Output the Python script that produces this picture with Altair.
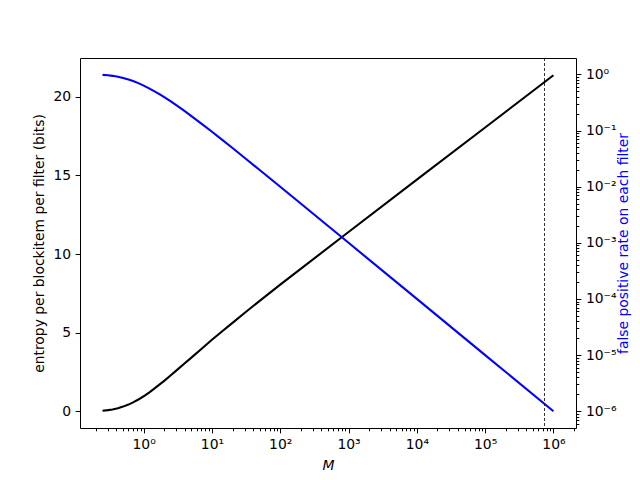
import altair as alt
import pandas as pd

# values
M = [0.25, 0.3, 0.35, 0.42, 0.5, 0.6, 0.7, 0.85, 1, 1.2, 1.4, 1.7, 2, 2.5, 3,
     4, 5, 7, 10, 14, 20, 30, 50, 100, 1e3, 1e4, 1e5, 1e6]
entropy = [0.03, 0.067, 0.11, 0.187, 0.29, 0.42, 0.56, 0.757, 0.95, 1.185,
           1.40, 1.685, 1.93, 2.287, 2.58, 3.05, 3.41, 3.96, 4.54, 5.07, 5.62,
           6.25, 7.02, 8.05, 11.40, 14.73, 18.05, 21.37]
fp = [0.982, 0.964, 0.943, 0.908, 0.865, 0.811, 0.760, 0.692, 0.632, 0.565,
      0.510, 0.445, 0.393, 0.330, 0.283, 0.221, 0.181, 0.133, 0.0952, 0.0689,
      0.0488, 0.0328, 0.0198, 0.00995, 1.0e-3, 1.0e-4, 1.0e-5, 1.0e-6]
marker_M = [7.4e5]

x_major = [1, 10, 100, 1e3, 1e4, 1e5, 1e6]
x_minor = [m * 10 ** k for k in range(-1, 7) for m in range(2, 10)
           if 0.117 <= m * 10 ** k <= 2.14e6]
left_ticks = [0, 5, 10, 15, 20]
right_major = [1e-6, 1e-5, 1e-4, 1e-3, 1e-2, 1e-1, 1]
right_minor = [m * 10.0 ** k for k in range(-7, 1) for m in range(2, 10)
               if 5.02e-7 <= m * 10.0 ** k <= 1.96]

df = pd.DataFrame({"M": M, "entropy": entropy, "fp": fp})
rule_df = pd.DataFrame({"M": marker_M})

SUP = {"0": "⁰", "1": "¹", "2": "²", "3": "³", "4": "⁴", "5": "⁵",
       "6": "⁶", "7": "⁷", "8": "⁸", "9": "⁹", "-": "⁻"}


def pow_label_expr(exps):
    e = "round(log(datum.value)/LN10)"
    s = ""
    for k in exps:
        lab = "10" + "".join(SUP[c] for c in str(k))
        s += f"{e} == {k} ? '{lab}' : "
    return s + "''"


FONT = "DejaVu Sans"
FS = 13.9
MAJ = 4.9
MIN = 2.8

xscale = alt.Scale(type="log", domain=[0.117, 2.14e6], nice=False)
lscale = alt.Scale(domain=[-1.07, 22.47], nice=False, zero=False)
rscale = alt.Scale(type="log", domain=[5.02e-7, 1.96], nice=False)

base = alt.Chart(df)

black = base.mark_line(color="black", strokeWidth=2.1).encode(
    x=alt.X("M:Q", scale=xscale,
            axis=alt.Axis(orient="bottom", values=x_major,
                          labelExpr=pow_label_expr(range(0, 7)),
                          title="M", titleFontStyle="italic", tickSize=MAJ,
                          labelPadding=4.5, titlePadding=7, grid=False,
                          domain=False, labelFlush=False, labelOverlap=False)),
    y=alt.Y("entropy:Q", scale=lscale,
            axis=alt.Axis(orient="left", values=left_ticks,
                          title="entropy per blockitem per filter (bits)",
                          tickSize=MAJ, labelPadding=4.5, titlePadding=6,
                          grid=False, domain=False)),
)

blue = base.mark_line(color="blue", strokeWidth=2.1).encode(
    x=alt.X("M:Q", scale=xscale, axis=None),
    y=alt.Y("fp:Q", scale=rscale,
            axis=alt.Axis(orient="right", values=right_major,
                          labelExpr=pow_label_expr(range(-6, 1)),
                          title="false positive rate on each filter",
                          titleColor="blue", titleAngle=270,
                          titleBaseline="top", titlePadding=1,
                          tickSize=MAJ, labelPadding=4.5, grid=False,
                          domain=False, labelFlush=False, labelOverlap=False)),
)

minor = base.mark_line(opacity=0).encode(
    x=alt.X("M:Q", scale=xscale,
            axis=alt.Axis(orient="bottom", values=x_minor, labels=False,
                          tickSize=MIN, title="", grid=False, domain=False)),
    y=alt.Y("fp:Q", scale=rscale,
            axis=alt.Axis(orient="right", values=right_minor, labels=False,
                          tickSize=MIN, title="", grid=False, domain=False)),
)

rule = alt.Chart(rule_df).mark_rule(color="black", strokeDash=[3, 2],
                                    strokeWidth=0.8).encode(
    x=alt.X("M:Q", scale=xscale, axis=None),
)

chart = (
    alt.layer(black, blue, minor, rule)
    .resolve_scale(y="independent")
    .resolve_axis(x="independent", y="independent")
    .properties(
        width=496, height=370,
        autosize=alt.AutoSizeParams(type="none"),
        padding={"left": 72, "top": 50, "right": 56, "bottom": 44},
        background="white",
    )
    .configure_view(stroke="black", strokeWidth=1)
    .configure_axis(labelFont=FONT, labelFontSize=FS, titleFont=FONT,
                    titleFontSize=FS, titleFontWeight="normal",
                    labelColor="black", tickColor="black", tickWidth=1,
                    titleColor="black")
)

chart.save("out.html", embed_options={"renderer": "svg", "actions": False})
